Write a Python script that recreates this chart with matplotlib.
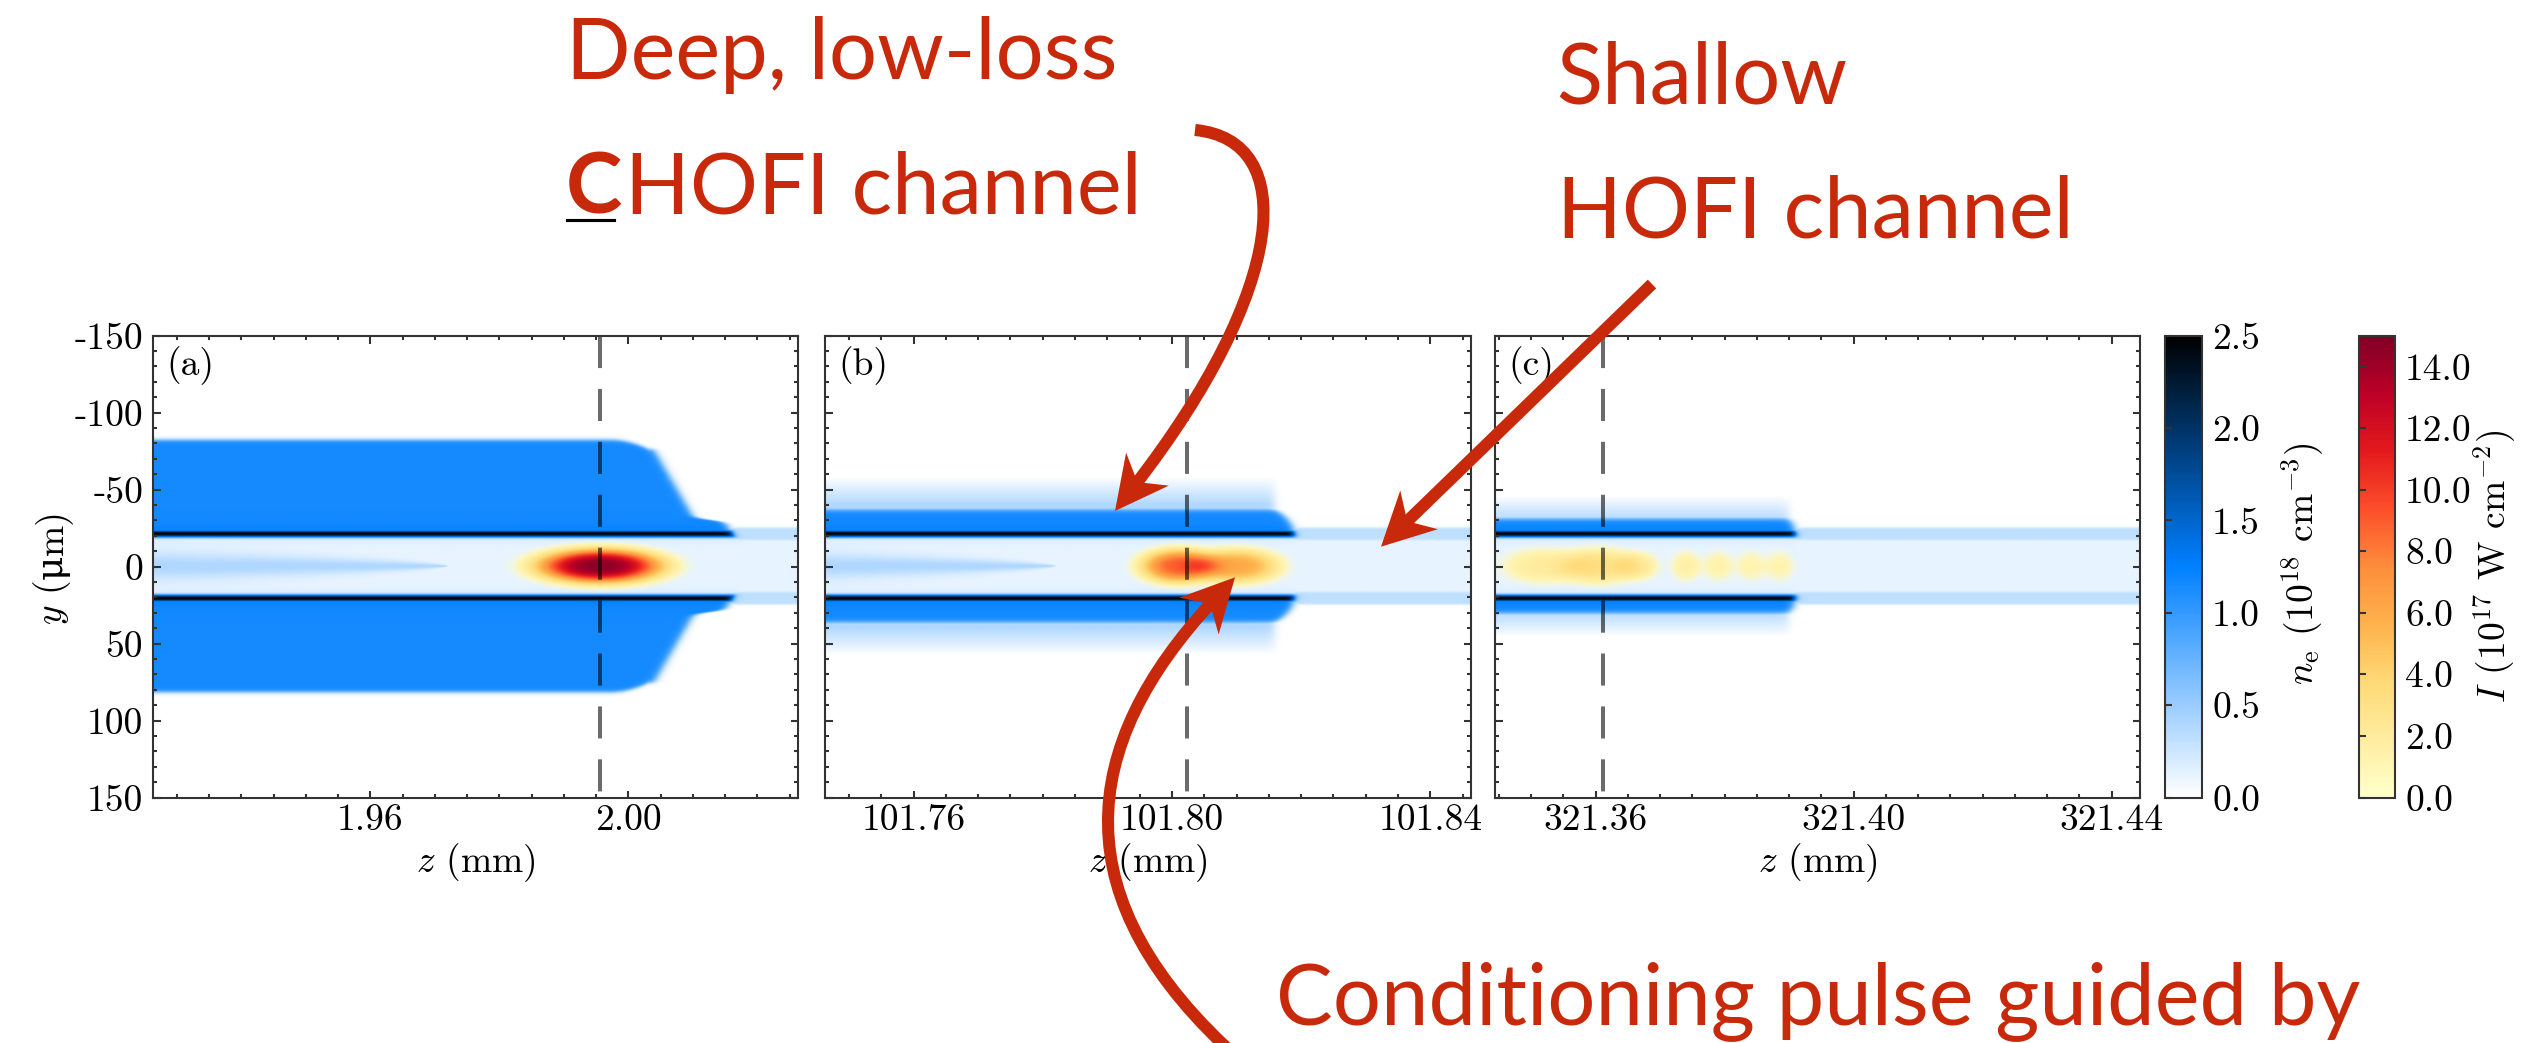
import numpy as np
import matplotlib
matplotlib.use("Agg")
import matplotlib.pyplot as plt
from matplotlib.colors import LinearSegmentedColormap, Normalize
from matplotlib.path import Path
from matplotlib.patches import PathPatch, Polygon
from matplotlib.lines import Line2D
from matplotlib.ticker import FixedLocator, FixedFormatter, MultipleLocator
from matplotlib.cm import ScalarMappable

# ------------------------------------------------------------------ data
panel_tags = ["(a)", "(b)", "(c)"]
z_limits = [(1.9263, 2.0263), (101.7463, 101.8463), (321.3444, 321.4444)]
z_major_ticks = [[1.96, 2.00], [101.76, 101.80, 101.84], [321.36, 321.40, 321.44]]
z_tick_labels = [["1.96", "2.00"], ["101.76", "101.80", "101.84"],
                 ["321.36", "321.40", "321.44"]]
y_ticks = [-150, -100, -50, 0, 50, 100, 150]
y_tick_labels = ["-150", "-100", "-50", "0", "50", "100", "150"]

# position of the pulse reference (dashed line), mm
pulse_ref_z = [1.9956, 101.8024, 321.3612]

# plasma channel structure (radii in um, z in mm)
wall_radius = 21.0
wall_density = 2.5
wall_sigma = 1.7
wall_end_z = [2.0161, 101.8189, 321.3909]
cap_bulge_um = [2.4, 0.9, 0.7]
sheath_radius = [82.0, 37.0, 31.0]
sheath_density = [1.15, 1.15, 1.15]
sheath_edge_um = [1.5, 2.0, 2.0]
ledge_radius = [30.0, 30.0, 30.0]
ledge_step_um = [4.5, 0.0, 0.0]
sheath_end_slope_um = [8.5, 3.0, 1.0]
sheath_end_power = [1.0, 2.0, 2.0]
corner_round_um = [6.0, 0.0, 0.0]
halo_radius = [84.0, 58.0, 46.0]
halo_density = [0.0, 0.45, 0.35]
taper_tip_z = [1.972, 101.782, 321.3444]
taper_halfwidth_um = [9.0, 8.0, 0.0]
taper_density = 0.28
interior_density = 0.12
interior_edge_density = 0.30
hofi_core_density = 0.12
hofi_band_density = 0.32
hofi_band_radii = (17.0, 25.0)

# laser intensity (10^17 W cm^-2): pulse components per panel
pulse_z = [[1.9956],
           [101.8010, 101.8100],
           [321.3520, 321.3605, 321.3665, 321.3740, 321.3790, 321.3840, 321.3885]]
pulse_peak = [[14.6],
              [8.8, 6.0],
              [2.0, 3.0, 2.0, 1.5, 1.3, 1.2, 1.2]]
pulse_len_um = [[11.6],
                [7.0, 8.0],
                [8.0, 7.0, 4.0, 3.0, 3.0, 3.0, 3.0]]
pulse_rad_um = [[13.2],
                [13.2, 13.2],
                [14.0, 14.0, 11.0, 12.5, 12.5, 12.5, 12.5]]

ne_ticks = [0.0, 0.5, 1.0, 1.5, 2.0, 2.5]
ne_tick_labels = ["0.0", "0.5", "1.0", "1.5", "2.0", "2.5"]
I_ticks = [0, 2, 4, 6, 8, 10, 12, 14]
I_tick_labels = ["0.0", "2.0", "4.0", "6.0", "8.0", "10.0", "12.0", "14.0"]

# ------------------------------------------------------------------ style
plt.rcParams["font.family"] = ["cmr10", "DejaVu Serif"]
plt.rcParams["mathtext.fontset"] = "cm"
plt.rcParams["axes.formatter.use_mathtext"] = True
plt.rcParams["axes.unicode_minus"] = False
plt.rcParams["lines.scale_dashes"] = False
plt.rcParams["font.size"] = 9

RED = "#C9290B"
AX_COL = "#333333"

W, H, DPI = 2521, 1043, 300
fig = plt.figure(figsize=(W / DPI, H / DPI), dpi=DPI)
renderer = fig.canvas.get_renderer()


def px_axes(x0, y0, x1, y1):
    return fig.add_axes([x0 / W, 1 - y1 / H, (x1 - x0) / W, (y1 - y0) / H])


def fpt(x, y):
    return (x / W, 1 - y / H)


def sig(x):
    return 0.5 * (1 + np.tanh(x))


def density_map(i, zz, yy):
    u = np.abs(yy)
    dz = (zz - wall_end_z[i]) * 1e3  # um relative to end of the deep channel
    # shallow HOFI channel
    r0, r1 = hofi_band_radii
    hofi = (hofi_core_density * sig((r0 - u) / 0.8)
            + hofi_band_density * sig((u - r0) / 0.8) * sig((r1 - u) / 0.8))
    # deep channel interior + walls
    s_in = np.clip(u / wall_radius, 0, 1)
    cap = cap_bulge_um[i] * (1 - s_in ** 2)
    m_in = sig((cap - dz) / 0.6)
    interior = interior_density + (interior_edge_density - interior_density) * s_in ** 6
    h0 = taper_halfwidth_um[i]
    if h0 > 0:
        z_left = z_limits[i][0]
        frac = np.clip((taper_tip_z[i] - zz) / (taper_tip_z[i] - z_left), 0, 1)
        h = np.maximum(h0 * frac ** 0.6, 1e-3)
        interior = interior + taper_density * np.exp(-(u / h) ** 2) * (frac > 0)
    interior = np.where(u < wall_radius, interior, 0.0)
    wall = wall_density * np.exp(-0.5 * ((u - wall_radius) / wall_sigma) ** 2)
    core = np.maximum(interior, wall)
    inside = m_in * core + (1 - m_in) * hofi
    # outer sheath and diffuse halo
    R = sheath_radius[i]
    s_out = np.clip((u - wall_radius) / (R - wall_radius), 0, 1)
    depth = (ledge_step_um[i] * sig((u - ledge_radius[i]) / 1.5)
             + sheath_end_slope_um[i] * s_out ** sheath_end_power[i])
    m_out = sig((-depth - dz) / 0.8)
    rc = corner_round_um[i]
    if rc > 0:
        depth_R = ledge_step_um[i] + sheath_end_slope_um[i]
        g = np.clip((dz + depth_R + rc) / rc, 0, 1) ** 2
        R_eff = R - rc * g
    else:
        R_eff = R
    sheath = (sheath_density[i] * (1 + 0.12 * np.exp(-(u - wall_radius) / 4.0))
              * sig((u - wall_radius - 0.5) / 0.6) * sig((R_eff - u) / sheath_edge_um[i]))
    Rh = halo_radius[i]
    halo = halo_density[i] * sig((u - R) / 1.0) * np.clip((Rh - u) / (Rh - R), 0, 1)
    outer = m_out * np.maximum(sheath, halo)
    return np.maximum(inside, outer)


def intensity_map(i, zz, yy):
    I = np.zeros_like(zz)
    for zc, amp, lz, ry in zip(pulse_z[i], pulse_peak[i], pulse_len_um[i], pulse_rad_um[i]):
        r = np.sqrt(((zz - zc) * 1e3 / lz) ** 2 + (yy / ry) ** 2)
        I += amp * np.exp(-2 * r ** 3)
    return I


ne_cmap = LinearSegmentedColormap.from_list("ne", ["#ffffff", "#0080ff", "#000000"])
I_cmap = plt.get_cmap("YlOrRd")

panel_px = [(153, 798), (825, 1471), (1495, 2140)]
top_px, bot_px = 335.7, 797.5

axes = []
for i, (x0, x1) in enumerate(panel_px):
    ax = px_axes(x0, top_px, x1, bot_px)
    axes.append(ax)
    z0, z1 = z_limits[i]
    z = np.linspace(z0, z1, 1100)
    y = np.linspace(-150, 150, 901)
    zz, yy = np.meshgrid(z, y)
    ne = density_map(i, zz, yy)
    ax.imshow(ne, cmap=ne_cmap, vmin=0, vmax=2.5, extent=(z0, z1, -150, 150),
              origin="lower", aspect="auto", interpolation="bilinear")
    I = intensity_map(i, zz, yy)
    alpha = np.clip((I - 0.1) / 1.0, 0, 1)
    ax.imshow(I, cmap=I_cmap, vmin=0, vmax=15, alpha=alpha, extent=(z0, z1, -150, 150),
              origin="lower", aspect="auto", interpolation="bilinear")
    ax.plot([pulse_ref_z[i], pulse_ref_z[i]], [-150, 150], color="k", alpha=0.58,
            lw=0.96, dashes=(7.7, 5.0))
    ax.set_xlim(z0, z1)
    ax.set_ylim(150, -150)
    ax.xaxis.set_major_locator(FixedLocator(z_major_ticks[i]))
    ax.xaxis.set_major_formatter(FixedFormatter(z_tick_labels[i]))
    ax.xaxis.set_minor_locator(MultipleLocator(0.005))
    ax.yaxis.set_major_locator(FixedLocator(y_ticks))
    ax.yaxis.set_major_formatter(FixedFormatter(y_tick_labels))
    ax.yaxis.set_minor_locator(MultipleLocator(10))
    ax.tick_params(which="both", direction="in", top=True, right=True,
                   color=AX_COL, width=0.5, labelsize=9)
    ax.tick_params(which="major", length=1.8)
    ax.tick_params(which="minor", length=1.0)
    ax.tick_params(axis="x", pad=1.6)
    ax.tick_params(axis="y", pad=2.4)
    if i > 0:
        ax.tick_params(labelleft=False)
    for sp in ax.spines.values():
        sp.set_linewidth(0.5)
        sp.set_color(AX_COL)
    ax.set_xlabel("$z$ (mm)", fontsize=9)
    ax.xaxis.set_label_coords(0.5, -0.094)
    ax.text(0.02, 0.978, panel_tags[i], transform=ax.transAxes, ha="left", va="top",
            fontsize=9)

# vertical axis title, written upward in pieces so the micro sign uses a font
# that contains it
y_title_parts = [("$y$ (", None), ("\u03bc", "DejaVu Serif"), ("m)", None)]
x_base = 62.0
pieces = []
for s, fam in y_title_parts:
    kw = {"family": fam} if fam else {}
    t = fig.text(0, 0, s, rotation=90, rotation_mode="anchor", ha="left",
                 va="baseline", fontsize=9, **kw)
    pieces.append(t)
lengths = [p.get_window_extent(renderer).height for p in pieces]
y_start = (H - 567) - sum(lengths) / 2  # display px from the bottom
for p, L in zip(pieces, lengths):
    p.set_position((x_base / W, y_start / H))
    y_start += L

# colour bars
cax1 = px_axes(2165, top_px, 2202, bot_px)
cax2 = px_axes(2359, top_px, 2395, bot_px)
for cax, cmap, vmax, ticks, labels in [(cax1, ne_cmap, 2.5, ne_ticks, ne_tick_labels),
                                       (cax2, I_cmap, 15, I_ticks, I_tick_labels)]:
    cb = fig.colorbar(ScalarMappable(norm=Normalize(0, vmax), cmap=cmap), cax=cax)
    cb.set_ticks(ticks)
    cb.set_ticklabels(labels)
    cb.outline.set_linewidth(0.5)
    cb.outline.set_edgecolor(AX_COL)
    cax.tick_params(which="both", direction="in", left=True, right=False,
                    labelleft=False, labelright=True, length=1.6, width=0.5,
                    color=AX_COL, labelsize=9, pad=2.4)
    cax.minorticks_off()

fig.text(*fpt(2303, 564), r"$n_\mathrm{e}$ ($10^{18}$ cm$^{-3}$)", rotation=90,
         ha="center", va="center", fontsize=9)
fig.text(*fpt(2495, 566), r"$I$ ($10^{17}$ W cm$^{-2}$)", rotation=90,
         ha="center", va="center", fontsize=9)

# ------------------------------------------------------------------ annotations
SANS = ["Lato", "DejaVu Sans"]
ANN_SIZE = 20.4


def label(x, y, s, **kw):
    return fig.text(*fpt(x, y), s, color=RED, fontsize=ANN_SIZE, family=SANS,
                    ha="left", va="baseline", **kw)


label(566, 79, "Deep, low-loss")
c_txt = label(566, 213, "C", fontweight="bold")
c_right = c_txt.get_window_extent(renderer).x1  # display px from the left
label(c_right + 3, 213, "HOFI channel")
label(1556, 104, "Shallow")
label(1557, 238, "HOFI channel")
label(1276, 1024, "Conditioning pulse guided by")
fig.add_artist(Line2D([567 / W, 614 / W], [1 - 220 / H, 1 - 220 / H], color="k",
                      lw=0.75, transform=fig.transFigure))

ARROW_LW = 2.9
HEAD_L, HEAD_W, NOTCH = 53.0, 27.0, 0.69


def arrow(ctrl, tip):
    ctrl = [np.asarray(p, float) for p in ctrl]
    tip = np.asarray(tip, float)
    d = tip - ctrl[-1]
    d /= np.hypot(*d)
    n = np.array([-d[1], d[0]])
    end = tip - 0.6 * HEAD_L * d
    pts = ctrl + [end]
    codes = [Path.MOVETO] + ([Path.CURVE4] * 3 if len(pts) == 4 else [Path.LINETO])
    verts = [fpt(*p) for p in pts]
    fig.add_artist(PathPatch(Path(verts, codes), fc="none", ec=RED, lw=ARROW_LW,
                             capstyle="butt", transform=fig.transFigure))
    head = [tip, tip - HEAD_L * d + HEAD_W * n, tip - NOTCH * HEAD_L * d,
            tip - HEAD_L * d - HEAD_W * n]
    fig.add_artist(Polygon([fpt(*p) for p in head], closed=True, fc=RED, ec="none",
                           transform=fig.transFigure))


arrow([(1195, 130), (1300, 140), (1287.7, 288)], (1115, 511))
arrow([(1652, 284)], (1381, 546.7))
arrow([(1240, 1060), (1060, 900), (1077, 747)], (1235, 577.3))

fig.savefig("out.png", dpi=DPI)
